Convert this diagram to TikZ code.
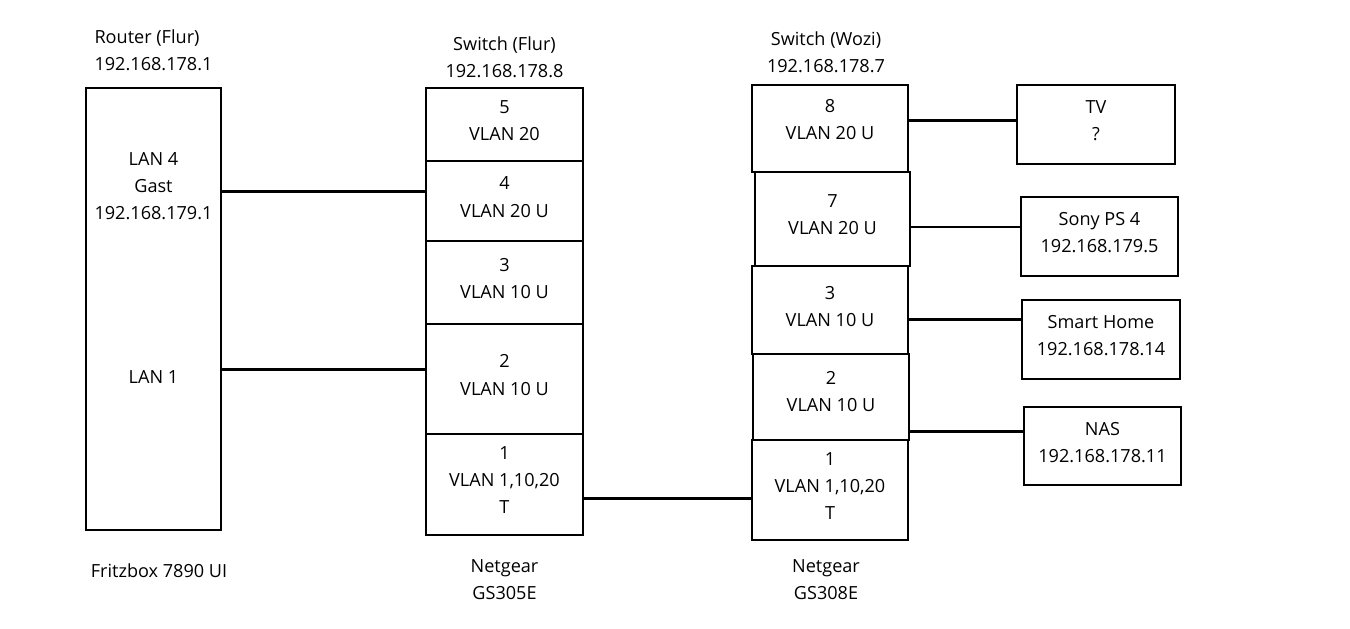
\documentclass[tikz,border=0pt]{standalone}
\usepackage{fontspec}
\setmainfont{Open Sans}
\usetikzlibrary{positioning}
\tikzset{every picture/.style={font issue=\fontsize{10.3}{15.4}},
         font issue/.style={execute at begin picture={#1\selectfont}},
         box/.style={draw, line width=1.2pt, align=center, inner sep=0pt, outer sep=0pt},
         port/.style={box, text depth=0.16cm},
         device/.style={box, text depth=0.16cm, minimum width=3.15cm, minimum height=1.57cm},
         caption/.style={align=center, inner sep=0pt},
         wire/.style={line width=1.5pt}
        }

\begin{document}
\begin{tikzpicture}[x=0.02cm, y=-0.02cm, node distance = 0pt]
\useasboundingbox (0,0) rectangle (1350,629);

%router
\node[box, minimum width=2.7cm, minimum height=8.84cm](router) at (153.5,309){};
\node[caption](lan4) at (153.5,186){LAN 4\\Gast\\192.168.179.1};
\node[caption](lan1) at (153.5,377){LAN 1};
\node[caption, align=left, above = 0.33cm of router](routername){Router (Flur)\\192.168.178.1};
\node[caption, below = 0.66cm of router, xshift=0.11cm](fritzbox){Fritzbox 7890 UI};

%switch flur
\node[port, minimum width=3.14cm, minimum height=1.46cm](fl5) at (504.5,124.5){5\\VLAN 20};
\node[port, minimum width=3.14cm, minimum height=1.6cm, below = of fl5](fl4){4\\VLAN 20 U};
\node[port, minimum width=3.14cm, minimum height=1.66cm, below = of fl4](fl3){3\\VLAN 10 U};
\node[port, minimum width=3.14cm, minimum height=2.2cm, below = of fl3](fl2){2\\VLAN 10 U};
\node[port, minimum width=3.14cm, minimum height=2.02cm, below = of fl2](fl1){1\\VLAN 1,10,20\\T};
\node[caption, above = 0.19cm of fl5](flurname){Switch (Flur)\\192.168.178.8};
\node[caption, below = 0.49cm of fl1](flurmodel){Netgear\\GS305E};

%switch wozi
\node[port, text depth=0.36cm, minimum width=3.12cm, minimum height=1.74cm](wz8) at (830,128.5){8\\VLAN 20 U};
\node[port, minimum width=3.1cm, minimum height=1.88cm](wz7) at (832.5,219){7\\VLAN 20 U};
\node[port, minimum width=3.12cm, minimum height=1.76cm](wz3) at (830,310){3\\VLAN 10 U};
\node[port, text depth=0.24cm, minimum width=3.12cm, minimum height=1.72cm](wz2) at (831,397){2\\VLAN 10 U};
\node[port, minimum width=3.12cm, minimum height=2cm](wz1) at (830,490){1\\VLAN 1,10,20\\T};
\node[caption, above = 0.23cm of wz8, xshift=-0.08cm](woziname){Switch (Wozi)\\192.168.178.7};
\node[caption, below = 0.39cm of wz1, xshift=-0.08cm](wozimodel){Netgear\\GS308E};

%devices
\node[device](tv) at (1096,124.5){TV\\?};
\node[device](ps4) at (1099.5,236.5){Sony PS 4\\192.168.179.5};
\node[device](smarthome) at (1101,339.5){Smart Home\\192.168.178.14};
\node[device](nas) at (1102.5,446){NAS\\192.168.178.11};

%lines
\draw[wire](fl4.173) -- (fl4.173 -| router.east);
\draw[wire](fl2.173) -- (fl2.173 -| router.east);
\draw[wire](fl1.-10) -- (fl1.-10 -| wz1.west);
\draw[wire](wz8.6) -- (wz8.6 -| tv.west);
\draw[wire](wz7.-6) -- (wz7.-6 -| ps4.west);
\draw[wire](wz3.-7) -- (wz3.-7 -| smarthome.west);
\draw[wire](wz2.-24) -- (wz2.-24 -| nas.west);

\end{tikzpicture}
\end{document}
